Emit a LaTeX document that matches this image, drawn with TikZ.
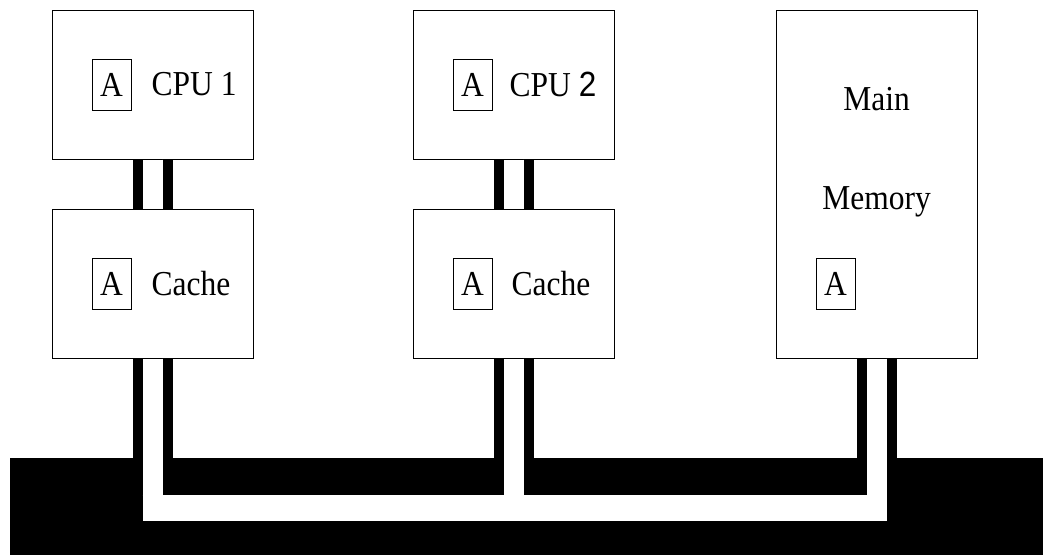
\documentclass[tikz,border=0pt]{standalone}
\usepackage{fontspec}
\setmainfont{Liberation Serif}[FakeStretch=0.9]
\newfontfamily\sansdigit{Liberation Sans}[FakeStretch=0.9]
\usetikzlibrary{positioning}
\tikzset{
    %Define style for unit boxes
    unit/.style={
           rectangle,
           draw=black, line width=1pt,
           minimum width=201pt,
           inner sep=0pt},
    %Define style for the small tag boxes
    tag/.style={
           rectangle,
           draw=black, line width=1pt,
           minimum width=39pt,
           minimum height=51pt,
           inner sep=0pt,
           font=\fontsize{35}{40}\selectfont},
    lbl/.style={
           inner sep=0pt,
           font=\fontsize{35}{40}\selectfont},
    % Define wire styles
    wireout/.style={line width=40pt, black},
    wirein/.style={line width=20pt, white}
}
\begin{document}
\begin{tikzpicture}[x=1pt,y=-1pt]
\useasboundingbox (0,0) rectangle (1043,555);
 %nodes
\node[unit, minimum height=149pt](cpu1) at (152.5,84.5){};
\node[unit, minimum height=149pt](cache1) at (152.5,283.5){};
\node[unit, minimum height=149pt](cpu2) at (513.5,84.5){};
\node[unit, minimum height=149pt](cache2) at (513.5,283.5){};
\node[unit, minimum height=348pt](mem) at (876.5,184){};
\node[fill=black, inner sep=0pt, minimum width=1033pt, minimum height=97pt, anchor=north west](bus) at (10,458){};
 %labels
\node[tag, anchor=west](a1) at ([xshift=40pt]cpu1.west){A};
\node[lbl, right=20pt of a1](t1){CPU 1};
\node[tag, anchor=west](a2) at ([xshift=40pt]cache1.west){A};
\node[lbl, right=20pt of a2](t2){Cache};
\node[tag, anchor=west](a3) at ([xshift=40pt]cpu2.west){A};
\node[lbl, right=17pt of a3](t3){CPU {\sansdigit 2}};
\node[tag, anchor=west](a4) at ([xshift=40pt]cache2.west){A};
\node[lbl, right=19pt of a4](t4){Cache};
\node[tag, anchor=west](a5) at ([xshift=40pt]mem.west |- cache2){A};
\node[lbl, anchor=base](t5) at (876.5,110){Main};
\node[lbl, anchor=base](t6) at (876.5,209){Memory};
 %wires
\coordinate (busline) at (0,508);
\draw[wireout] (cpu1) -- (cache1);
\draw[wireout] (cpu2) -- (cache2);
\draw[wireout] (cache1.south) -- (cache1 |- bus.north);
\draw[wireout] (cache2.south) -- (cache2 |- bus.north);
\draw[wireout] (mem.south) -- (mem |- bus.north);
\draw[wirein] (cpu1) -- (cache1);
\draw[wirein] (cpu2) -- (cache2);
\draw[wirein] (cache1.south) -- (cache1 |- busline);
\draw[wirein] (cache2.south) -- (cache2 |- busline);
\draw[wirein] (mem.south) -- (mem |- busline);
\draw[wirein, line width=26pt, shorten <=-10pt, shorten >=-10pt] (cache1 |- busline) -- (mem |- busline);
\end{tikzpicture}
\end{document}
